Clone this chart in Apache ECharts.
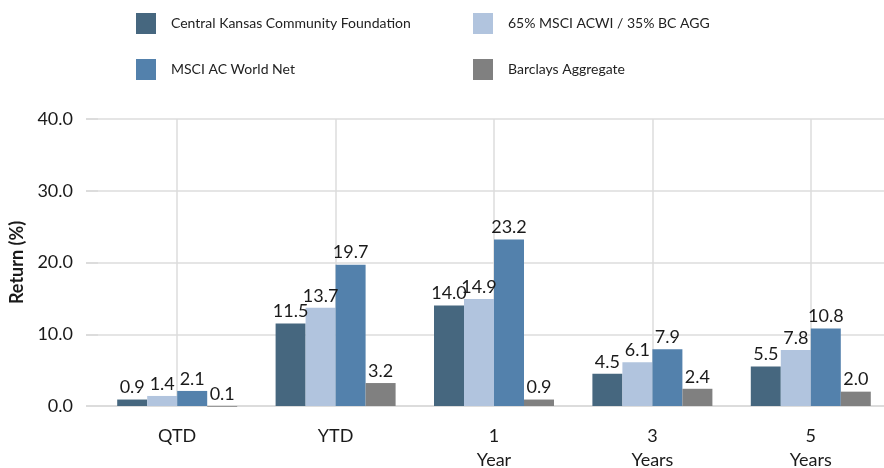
<!DOCTYPE html>
<html>
<head>
<meta charset="utf-8">
<script src="https://cdn.jsdelivr.net/npm/echarts@6/dist/echarts.min.js"></script>
<style>
    html, body { margin: 0; padding: 0; background: #fff; }
    #chart { width: 884px; height: 468px; }
</style>
</head>
<body>
<div id="chart"></div>
<script>
    // periods and returns
    var periods = ['QTD', 'YTD', '1\nYear', '3\nYears', '5\nYears'];
    var seriesNames = [
        'Central Kansas Community Foundation',
        '65% MSCI ACWI / 35% BC AGG',
        'MSCI AC World Net',
        'Barclays Aggregate'
    ];
    var ckcf = [0.9, 11.5, 14.0, 4.5, 5.5];
    var blend = [1.4, 13.7, 14.9, 6.1, 7.8];
    var acwi = [2.1, 19.7, 23.2, 7.9, 10.8];
    var barclays = [-0.1, 3.2, 0.9, 2.4, 2.0];
    var yTicks = [0, 40, 10]; // min, max, interval

    var colors = ['#46677f', '#b1c4de', '#5381ac', '#808080'];
    var font = 'Lato';
    var gridColor = '#dcdcdc';

    var myChart = echarts.init(document.getElementById('chart'));

    function legendAt(i, left, top) {
        return {
            data: [seriesNames[i]],
            left: left,
            top: top,
            padding: 0,
            itemWidth: 20,
            itemHeight: 21,
            icon: 'rect',
            textStyle: {
                fontFamily: font,
                fontSize: 14,
                color: '#222',
                padding: [8, 0, 0, 10]
            }
        };
    }

    function bar(i, values) {
        return {
            name: seriesNames[i],
            type: 'bar',
            data: values,
            barWidth: 30,
            barGap: '0%',
            clip: false,
            itemStyle: {color: colors[i]},
            label: {
                show: true,
                position: 'top',
                distance: 3,
                fontFamily: font,
                fontSize: 18,
                color: '#1a1a1a',
                formatter: function (p) {
                    return Math.abs(p.value).toFixed(1);
                }
            }
        };
    }

    var option = {
        animation: false,
        color: colors,
        legend: [
            legendAt(0, 136, 13),
            legendAt(1, 473, 13),
            legendAt(2, 136, 59),
            legendAt(3, 473, 59)
        ],
        grid: {left: 98, top: 119, width: 792, bottom: 62, containLabel: false, outerBoundsMode: 'none'},
        xAxis: {
            type: 'category',
            data: periods,
            axisLine: {lineStyle: {color: gridColor, width: 2}},
            axisTick: {alignWithLabel: true, length: 11, lineStyle: {color: gridColor, width: 2}},
            splitLine: {show: true, alignWithLabel: true, lineStyle: {color: gridColor, width: 1.5}},
            axisLabel: {
                fontFamily: font,
                fontSize: 18,
                color: '#1a1a1a',
                lineHeight: 24,
                margin: 18
            }
        },
        yAxis: {
            type: 'value',
            min: yTicks[0],
            max: yTicks[1],
            interval: yTicks[2],
            name: 'Return (%)',
            nameLocation: 'middle',
            nameGap: 70,
            nameTextStyle: {fontFamily: font, fontSize: 18, fontWeight: 'bold', color: '#1a1a1a'},
            axisLine: {show: false},
            axisTick: {show: true, length: 12, lineStyle: {color: gridColor, width: 2}},
            splitLine: {lineStyle: {color: gridColor, width: 1.5}},
            axisLabel: {
                fontFamily: font,
                fontSize: 18,
                color: '#1a1a1a',
                margin: 25,
                formatter: function (v) {
                    return v.toFixed(1);
                }
            }
        },
        series: [
            bar(0, ckcf),
            bar(1, blend),
            bar(2, acwi),
            bar(3, barclays)
        ]
    };

    myChart.setOption(option);
</script>
</body>
</html>
